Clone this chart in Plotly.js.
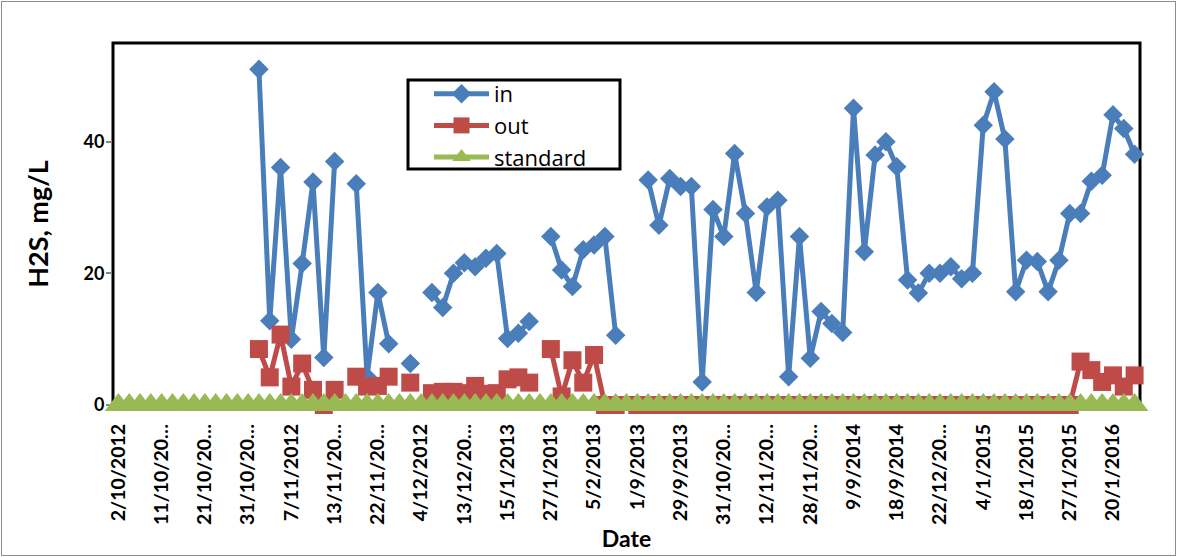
<!DOCTYPE html>
<html>
<head>
<meta charset="utf-8">
<script src="https://cdn.plot.ly/plotly-3.0.1.min.js"></script>
<style>
  html, body { margin: 0; padding: 0; background: #ffffff; }
  #wrap { position: relative; width: 1177px; height: 557px; }
  #chart { position: absolute; left: 0; top: 0; width: 1177px; height: 557px; }
  #frame { position: absolute; left: 1px; top: 1px; width: 1173px; height: 553px;
           border: 1px solid #8c8c8c; pointer-events: none; }
</style>
</head>
<body>
<div id="wrap">
  <div id="chart"></div>
  <div id="frame"></div>
</div>
<script>
// Sampling dates shown on the category axis (every 4th sample is labelled)
const dateLabels = [
  "2/10/2012", "11/10/20\u2026", "21/10/20\u2026", "31/10/20\u2026", "7/11/2012",
  "13/11/20\u2026", "22/11/20\u2026", "4/12/2012", "13/12/20\u2026", "15/1/2013",
  "27/1/2013", "5/2/2013", "1/9/2013", "29/9/2013", "31/10/20\u2026",
  "12/11/20\u2026", "28/11/20\u2026", "9/9/2014", "18/9/2014", "22/12/20\u2026",
  "4/1/2015", "18/1/2015", "27/1/2015", "20/1/2016"
];
const labelStep = 4;
const sampleCount = 95;

// H2S concentration at the inlet, mg/L (null = not measured)
const h2sIn = [
  null, null, null, null, null, null, null, null, null, null,
  null, null, null, 51.0, 12.8, 36.1, 10.0, 21.5, 33.9, 7.2,
  37.0, null, 33.6, 4.3, 17.1, 9.3, null, 6.3, null, 17.1,
  14.8, 20.0, 21.6, 21.0, 22.3, 23.0, 10.1, 10.9, 12.7, null,
  25.6, 20.5, 18.0, 23.6, 24.3, 25.6, 10.6, null, null, 34.2,
  27.3, 34.4, 33.2, 33.2, 3.5, 29.7, 25.6, 38.2, 29.1, 17.1,
  30.1, 31.1, 4.3, 25.6, 7.1, 14.2, 12.4, 11.0, 45.1, 23.3,
  38.0, 40.0, 36.2, 19.0, 17.0, 20.0, 20.0, 21.0, 19.2, 20.0,
  42.5, 47.6, 40.4, 17.2, 22.0, 21.8, 17.2, 22.0, 29.1, 29.1,
  34.0, 34.9, 44.1, 42.0, 38.1
];

// H2S concentration at the outlet, mg/L
const h2sOut = [
  null, null, null, null, null, null, null, null, null, null,
  null, null, null, 8.5, 4.2, 10.7, 2.8, 6.3, 2.3, 0,
  2.3, null, 4.3, 2.8, 2.9, 4.3, null, 3.4, null, 1.8,
  2.0, 2.0, 1.8, 2.9, 1.7, 1.8, 3.9, 4.2, 3.4, null,
  8.5, 1.3, 6.8, 3.4, 7.6, 0, 0, null, 0, 0,
  0, 0, 0, 0, 0, 0, 0, 0, 0, 0,
  0, 0, 0, 0, 0, 0, 0, 0, 0, 0,
  0, 0, 0, 0, 0, 0, 0, 0, 0, 0,
  0, 0, 0, 0, 0, 0, 0, 0, 0, 6.6,
  5.3, 3.5, 4.5, 2.8, 4.5
];

// Discharge standard, mg/L
const h2sStandard = new Array(sampleCount).fill(0);

const sampleIndex = Array.from({length: sampleCount}, (_, i) => i);
const tickPositions = dateLabels.map((_, k) => k * labelStep);

const FONT = "Lato, 'Open Sans', sans-serif";
const LEGEND_FONT = "'Open Sans', Lato, sans-serif";

const traces = [
  {
    name: "in", x: sampleIndex, y: h2sIn, type: "scatter", mode: "lines+markers",
    line: {color: "#4a7ebb", width: 5},
    marker: {symbol: "diamond", size: 15, color: "#4a7ebb"},
    connectgaps: false, cliponaxis: false
  },
  {
    name: "out", x: sampleIndex, y: h2sOut, type: "scatter", mode: "lines+markers",
    line: {color: "#be4b48", width: 5},
    marker: {symbol: "square", size: 18, color: "#be4b48"},
    connectgaps: false, cliponaxis: false
  },
  {
    name: "standard", x: sampleIndex, y: h2sStandard, type: "scatter", mode: "lines+markers",
    line: {color: "#98b954", width: 5},
    marker: {symbol: "triangle-up", size: 24, color: "#98b954"},
    cliponaxis: false
  }
];

// Legend frame, in paper coordinates of the plot area (113..1140 x 43..405 px)
const px2x = p => (p - 113) / 1027;
const px2y = p => (405 - p) / 362;

const layout = {
  width: 1177, height: 557,
  margin: {l: 113, r: 37, t: 43, b: 152, pad: 0},
  paper_bgcolor: "#ffffff", plot_bgcolor: "#ffffff",
  font: {family: FONT, color: "#000000"},
  showlegend: true,
  legend: {
    x: px2x(429), y: px2y(73), xanchor: "left", yanchor: "top",
    bgcolor: "rgba(255,255,255,0)", borderwidth: 0,
    font: {family: LEGEND_FONT, size: 22, color: "#000000"},
    itemwidth: 55, tracegroupgap: 0
  },
  xaxis: {
    range: [-0.5, sampleCount - 0.5],
    tickmode: "array", tickvals: tickPositions, ticktext: dateLabels,
    tickangle: -90, ticks: "", showgrid: false, zeroline: false, showline: false,
    tickfont: {family: FONT, size: 19.5, weight: "bold", color: "#000000"},
    ticklabelstandoff: 14,
    layer: "below traces",
    title: {text: "Date", font: {family: FONT, size: 23, weight: "bold"}, standoff: 6}
  },
  yaxis: {
    range: [0, 55], tickmode: "array", tickvals: [0, 20, 40],
    ticks: "outside", ticklen: 6, tickwidth: 2, tickcolor: "#868686",
    showgrid: false, zeroline: false, showline: false,
    tickfont: {family: FONT, size: 18, weight: "bold", color: "#000000"},
    ticklabelstandoff: -2,
    layer: "below traces",
    title: {text: "H2S, mg/L", font: {family: FONT, size: 27, weight: "bold"}, standoff: 27}
  },
  shapes: [
    {type: "rect", xref: "paper", yref: "paper", x0: 0, x1: 1, y0: 0, y1: 1,
     line: {color: "#000000", width: 3}, layer: "below"},
    {type: "rect", xref: "paper", yref: "paper",
     x0: px2x(408), x1: px2x(620), y0: px2y(169), y1: px2y(80),
     line: {color: "#000000", width: 3}, fillcolor: "#ffffff", layer: "below"}
  ]
};

Plotly.newPlot("chart", traces, layout, {displayModeBar: false, staticPlot: true});
</script>
</body>
</html>
